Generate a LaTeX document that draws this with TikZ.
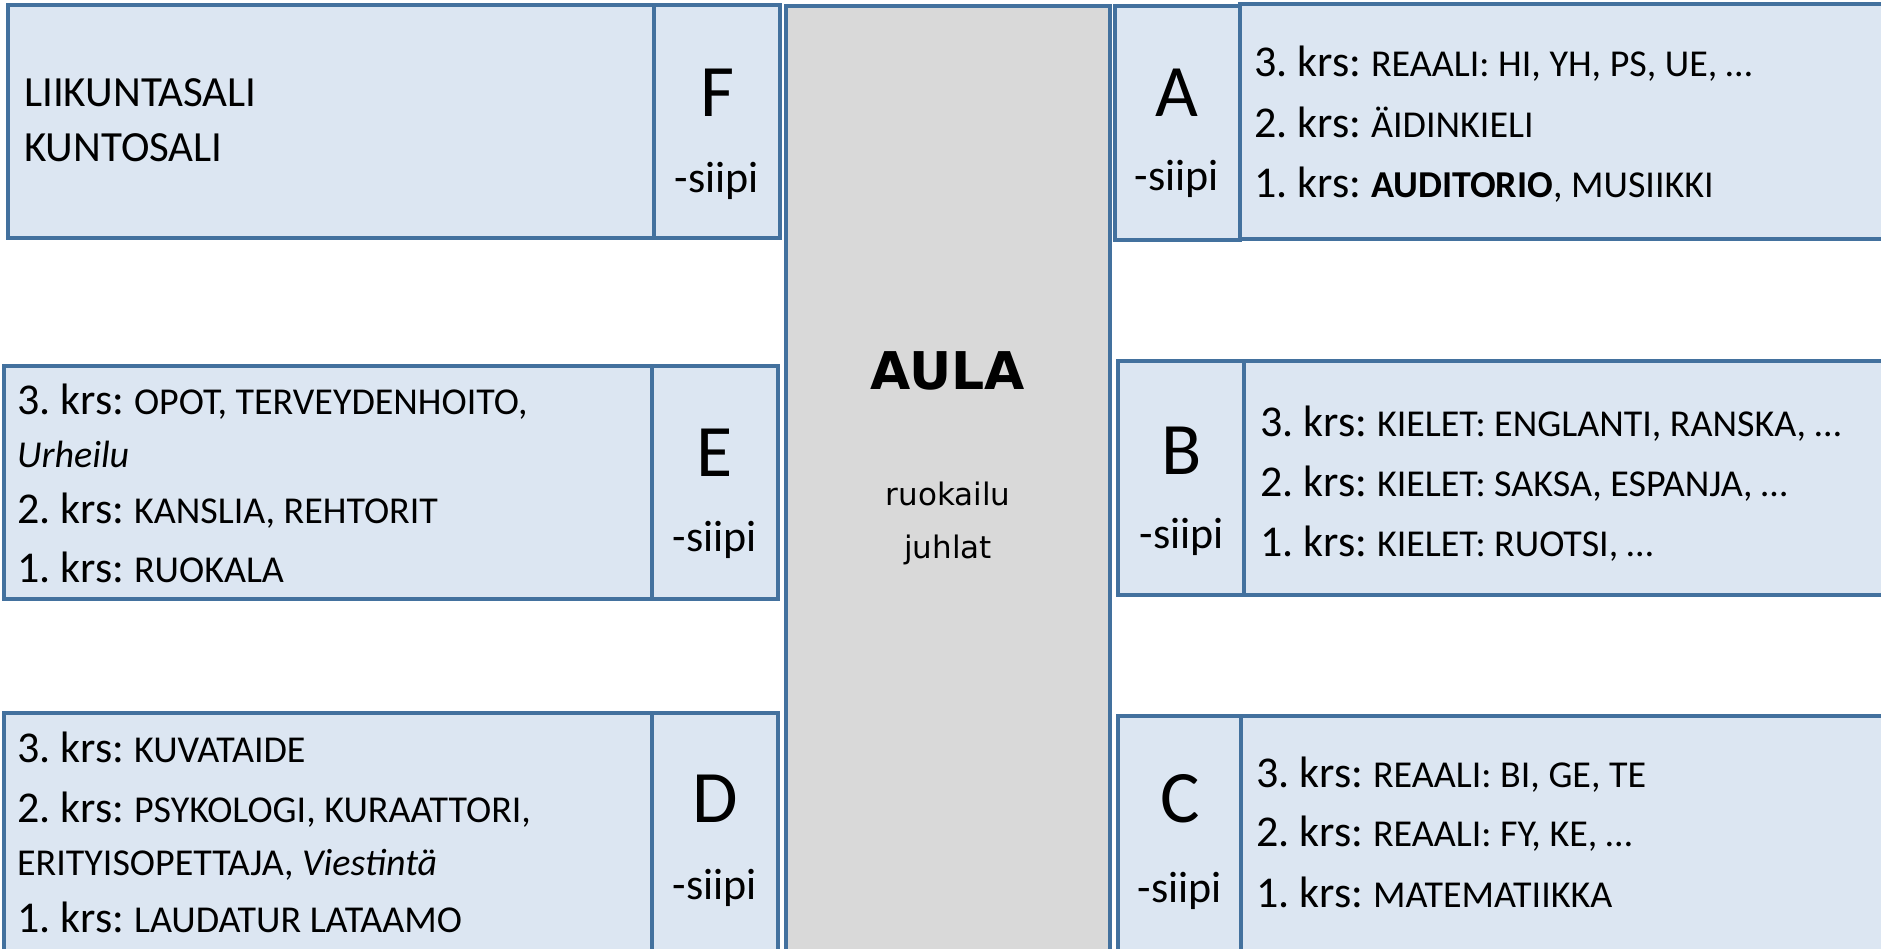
\documentclass[tikz,border=0pt]{standalone}
\usepackage{fontspec}
\setmainfont{Carlito}
\newfontfamily\aulafont{DejaVu Sans}
\definecolor{wingfill}{HTML}{DCE6F2}
\definecolor{wingline}{HTML}{43719E}
\definecolor{aulafill}{HTML}{D9D9D9}
\newcommand\krsline[2]{{\fontsize{44}{48}\selectfont #1.\ krs:\ }{\fontsize{38}{40}\selectfont #2}}
\newcommand\smalltxt[1]{{\fontsize{38}{40}\selectfont #1}}
\tikzset{
  wingbox/.style={draw=wingline, fill=wingfill, line width=3.8pt},
  aulabox/.style={draw=wingline, fill=aulafill, line width=3.8pt},
  letter/.style={font=\fontsize{74}{80}\selectfont, anchor=base, inner sep=0pt},
  siipi/.style={font=\fontsize{44}{48}\selectfont, anchor=base, inner sep=0pt},
  row/.style={anchor=base west, inner sep=0pt, execute at begin node=\frenchspacing},
  hall/.style={font=\aulafont\fontsize{31}{36}\selectfont, anchor=base, inner sep=0pt},
}
\begin{document}
\begin{tikzpicture}[x=1pt, y=-1pt]
\useasboundingbox (0,0) rectangle (1881,948);
\clip (0,0) rectangle (1881,948);

% central hall
\path[aulabox] (786,6) rectangle (1110,962);
\node[font=\aulafont\bfseries\fontsize{52}{56}\selectfont, anchor=base, inner sep=0pt] (aula) at (948,389) {AULA};
\node[hall] (ruok) at (948,505) {ruokailu};
\node[hall] (juhl) at (948,558) {juhlat};

% F wing
\path[wingbox] (8,5) rectangle (654,238);
\path[wingbox] (654,5) rectangle (780,238);
\node[letter] (Fl) at (717,116) {F};
\node[siipi] (Fs) at (717,192) {-siipi};
\node[row] (F1) at (24,106) {\fontsize{43}{44}\selectfont LIIKUNTASALI};
\node[row] (F2) at (24,161) {\fontsize{43}{44}\selectfont KUNTOSALI};

% E wing
\path[wingbox] (4,366) rectangle (652,599);
\path[wingbox] (652,366) rectangle (778,599);
\node[letter] (El) at (715,476) {E};
\node[siipi] (Es) at (715,551) {-siipi};
\node[row] (E3) at (17,414) {\krsline{3}{OPOT, TERVEYDENHOITO,}};
\node[row] (E3b) at (17,467) {\smalltxt{\itshape Urheilu}};
\node[row] (E2) at (17,523) {\krsline{2}{KANSLIA, REHTORIT}};
\node[row] (E1) at (17,582) {\krsline{1}{RUOKALA}};

% D wing
\path[wingbox] (4,713) rectangle (652,962);
\path[wingbox] (652,713) rectangle (778,962);
\node[letter] (Dl) at (715,822) {D};
\node[siipi] (Ds) at (715,899) {-siipi};
\node[row] (D3) at (17,762) {\krsline{3}{KUVATAIDE}};
\node[row] (D2) at (17,822) {\krsline{2}{PSYKOLOGI, KURAATTORI,}};
\node[row] (D2b) at (17,875) {\smalltxt{ERITYISOPETTAJA, \itshape Viestintä}};
\node[row] (D1) at (17,932) {\krsline{1}{LAUDATUR LATAAMO}};

% A wing
\path[wingbox] (1115,6) rectangle (1240,240);
\path[wingbox] (1240,4) rectangle (1895,239);
\node[letter] (Al) at (1177,116) {A};
\node[siipi] (As) at (1177,190) {-siipi};
\node[row] (A3) at (1254,76) {\krsline{3}{REAALI: HI, YH, PS, UE, …}};
\node[row] (A2) at (1254,137) {\krsline{2}{ÄIDINKIELI}};
\node[row] (A1) at (1254,197) {\krsline{1}{\textbf{AUDITORIO}, MUSIIKKI}};

% B wing
\path[wingbox] (1118,361) rectangle (1244,595);
\path[wingbox] (1244,361) rectangle (1895,595);
\node[letter] (Bl) at (1182,474) {B};
\node[siipi] (Bs) at (1182,548) {-siipi};
\node[row] (B3) at (1260,436) {\krsline{3}{KIELET: ENGLANTI, RANSKA, …}};
\node[row] (B2) at (1260,496) {\krsline{2}{KIELET: SAKSA, ESPANJA, …}};
\node[row] (B1) at (1260,556) {\krsline{1}{KIELET: RUOTSI, …}};

% C wing
\path[wingbox] (1118,716) rectangle (1241,962);
\path[wingbox] (1241,716) rectangle (1895,962);
\node[letter] (Cl) at (1180,822) {C};
\node[siipi] (Cs) at (1180,902) {-siipi};
\node[row] (C3) at (1256,787) {\krsline{3}{REAALI: BI, GE, TE}};
\node[row] (C2) at (1256,846) {\krsline{2}{REAALI: FY, KE, …}};
\node[row] (C1) at (1256,907) {\krsline{1}{MATEMATIIKKA}};
\end{tikzpicture}
\end{document}
